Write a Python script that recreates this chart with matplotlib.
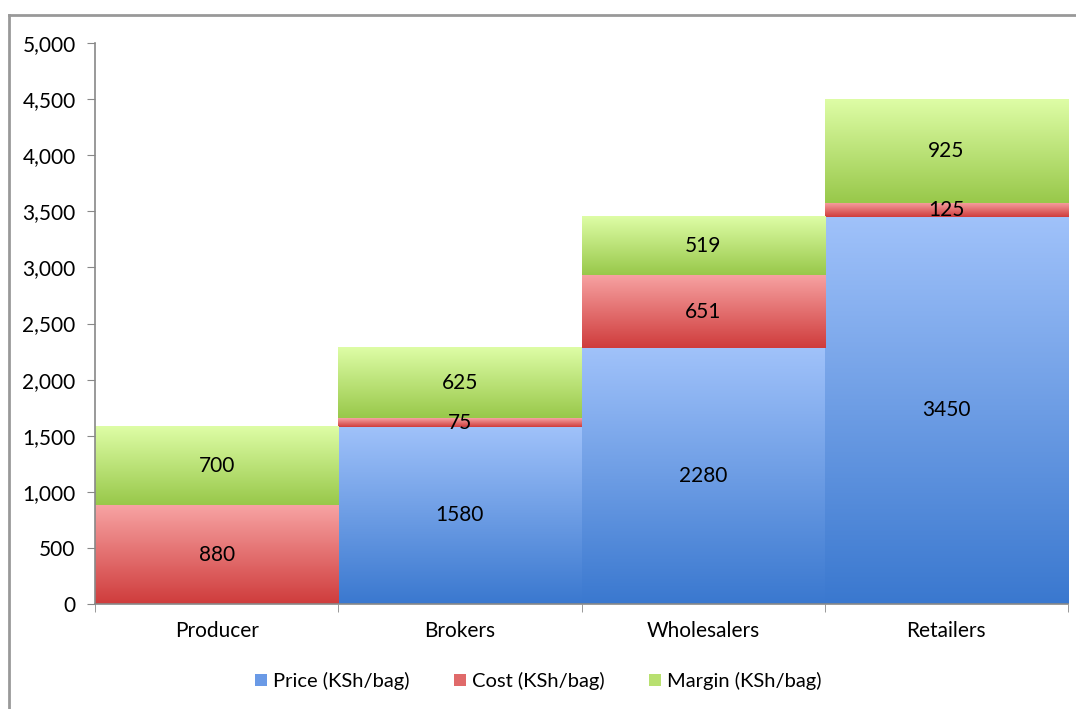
import matplotlib
matplotlib.use("Agg")
import matplotlib.pyplot as plt
import numpy as np
from matplotlib.colors import LinearSegmentedColormap
from matplotlib.patches import Patch
from matplotlib.lines import Line2D

plt.rcParams['font.family'] = ['Lato', 'DejaVu Sans']

stages = ['Producer', 'Brokers', 'Wholesalers', 'Retailers']
price = [0, 1580, 2280, 3450]
cost = [880, 75, 651, 125]
margin = [700, 625, 519, 925]
series_names = ['Price (KSh/bag)', 'Cost (KSh/bag)', 'Margin (KSh/bag)']

# top colour, bottom colour for each series gradient
grads = [('#a0c2fa', '#3a78cf'), ('#f7a3a3', '#cf3c3c'), ('#defda6', '#98c84a')]
legend_cols = ['#6a9ae6', '#e06a6a', '#b8e070']

fig = plt.figure(figsize=(10.76, 7.09), dpi=100)
ax = fig.add_axes([95 / 1076, 1 - 604 / 709, (1068 - 95) / 1076, (604 - 43) / 709])

x = np.arange(len(stages))
bottom = np.zeros(len(stages))
grad_img = np.linspace(1, 0, 256).reshape(-1, 1)
for vals, name, (c_top, c_bot) in zip([price, cost, margin], series_names, grads):
    vals = np.array(vals, dtype=float)
    bars = ax.bar(x, vals, width=1.0, bottom=bottom, color='none', edgecolor='none', label=name)
    cmap = LinearSegmentedColormap.from_list(name, [c_bot, c_top])
    for b, v in zip(bars, vals):
        if v <= 0:
            continue
        x0, y0 = b.get_x(), b.get_y()
        ax.imshow(grad_img, cmap=cmap, extent=[x0, x0 + b.get_width(), y0, y0 + b.get_height()],
                  aspect='auto', zorder=1, vmin=0, vmax=1)
        ax.text(x0 + b.get_width() / 2, y0 + v / 2, f'{int(v)}', ha='center', va='center',
                fontsize=15, color='black', zorder=3)
    bottom += vals

ax.set_xlim(-0.5, 3.5)
ax.set_ylim(0, 5000)
ax.set_yticks(np.arange(0, 5001, 500))
ax.set_yticklabels([f'{v:,}' for v in range(0, 5001, 500)], fontsize=15)
ax.set_xticks(x)
ax.set_xticklabels(stages, fontsize=15)
ax.tick_params(axis='x', length=0, pad=12)
ax.set_xticks(np.arange(-0.5, 4, 1), minor=True)
ax.tick_params(axis='x', which='minor', length=6, color='#888888', direction='out')
ax.tick_params(axis='y', length=6, color='#888888', pad=8)
for s in ['top', 'right']:
    ax.spines[s].set_visible(False)
for s in ['left', 'bottom']:
    ax.spines[s].set_color('#888888')
    ax.spines[s].set_linewidth(1.2)

handles = [Patch(facecolor=c, edgecolor='none') for c in legend_cols]
fig.legend(handles, series_names, loc='center', bbox_to_anchor=(0.5, 1 - 681 / 709), ncol=3,
           frameon=False, fontsize=14.5, handlelength=0.6, handleheight=0.6, handletextpad=0.3,
           columnspacing=2.2)

# outer frame
fig.add_artist(Line2D([9 / 1076, 9 / 1076], [0, 1 - 15 / 709], transform=fig.transFigure,
                      color='#999999', lw=2))
fig.add_artist(Line2D([9 / 1076, 1], [1 - 15 / 709, 1 - 15 / 709], transform=fig.transFigure,
                      color='#999999', lw=2))

fig.savefig('out.png', dpi=100, facecolor='white')
